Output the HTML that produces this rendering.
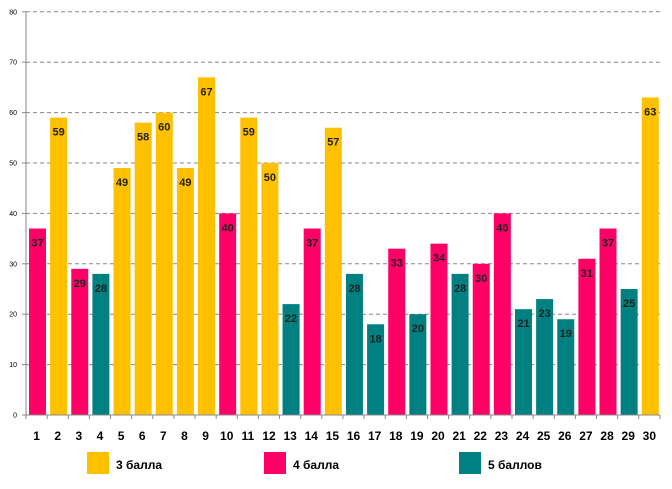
<!DOCTYPE html>
<html><head><meta charset="utf-8"><style>
body{margin:0;background:#fff}
svg{display:block}
text{font-family:"Liberation Sans",sans-serif}
</style></head><body>
<svg width="672" height="489" viewBox="0 0 672 489" xmlns="http://www.w3.org/2000/svg">
<g id="g"></g>
</svg>
<script>
const vals=[[37,'p'],[59,'y'],[29,'p'],[28,'t'],[49,'y'],[58,'y'],[60,'y'],[49,'y'],[67,'y'],[40,'p'],[59,'y'],[50,'y'],[22,'t'],[37,'p'],[57,'y'],[28,'t'],[18,'t'],[33,'p'],[20,'t'],[34,'p'],[28,'t'],[30,'p'],[40,'p'],[21,'t'],[23,'t'],[19,'t'],[31,'p'],[37,'p'],[25,'t'],[63,'y']];
const col={y:'#FFC000',p:'#FF0066',t:'#008080'};
const y0=415,k=5.04,x0=26,cw=21.13;
let s='';
for(let i=1;i<=8;i++){const y=y0-i*10*k;s+=`<line x1="26" y1="${y}" x2="660" y2="${y}" stroke="#888" stroke-dasharray="4,3"/>`;}
for(let i=0;i<=8;i++){const y=y0-i*10*k;s+=`<text x="17" y="${y+2.5}" font-size="7" text-anchor="end">${i*10}</text><line x1="22" y1="${y}" x2="26" y2="${y}" stroke="#888"/>`;}
vals.forEach((v,i)=>{const x=x0+i*cw+3,h=v[0]*k;s+=`<rect x="${x}" y="${y0-h}" width="17" height="${h}" fill="${col[v[1]]}"/>`;
s+=`<text x="${x+8.5}" y="${y0-h+18}" font-size="11" font-weight="bold" text-anchor="middle" fill="#222">${v[0]}</text>`;
s+=`<text x="${x0+i*cw+cw/2}" y="440" font-size="12" font-weight="bold" text-anchor="middle">${i+1}</text>`;});
for(let i=0;i<=30;i++){const x=x0+i*cw;s+=`<line x1="${x}" y1="415" x2="${x}" y2="419" stroke="#888"/>`;}
s+=`<line x1="26" y1="12" x2="26" y2="415" stroke="#888"/><line x1="22" y1="415" x2="660" y2="415" stroke="#888"/>`;
[[87,'y','3 балла'],[264,'p','4 балла'],[459,'t','5 баллов']].forEach(l=>{s+=`<rect x="${l[0]}" y="452" width="22" height="22" fill="${col[l[1]]}"/><text x="${l[0]+29}" y="469" font-size="12" font-weight="bold">${l[2]}</text>`;});
document.getElementById('g').innerHTML=s;
</script>
</body></html>
